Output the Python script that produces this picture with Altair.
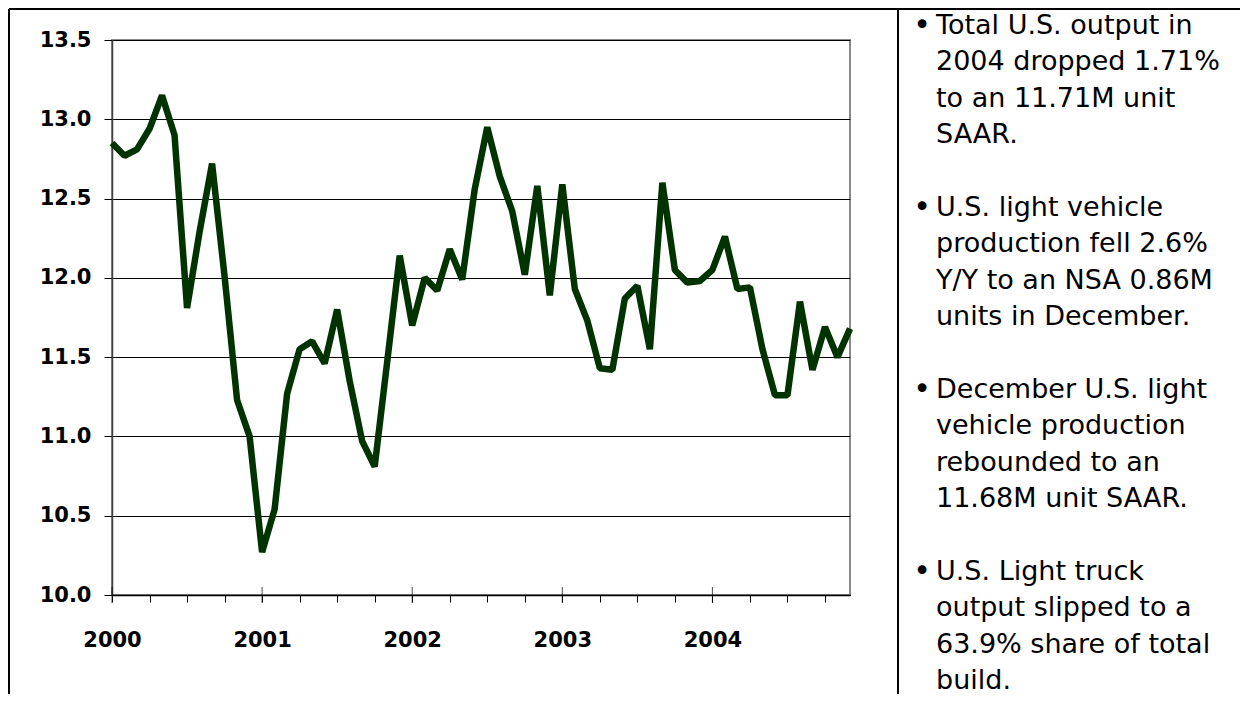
import altair as alt
import pandas as pd

# ---- data (U.S. light vehicle production, M units SAAR) ----
years = [2000, 2001, 2002, 2003, 2004]
v2000 = [12.85, 12.77, 12.81, 12.94, 13.15, 12.90, 11.81, 12.29, 12.72, 12.01, 11.23, 11.00]
v2001 = [10.27, 10.54, 11.27, 11.55, 11.60, 11.46, 11.80, 11.35, 10.97, 10.81, 11.47, 12.14]
v2002 = [11.70, 12.00, 11.92, 12.18, 11.99, 12.56, 12.95, 12.64, 12.42, 12.02, 12.58, 11.89]
v2003 = [12.59, 11.93, 11.73, 11.43, 11.42, 11.87, 11.95, 11.55, 12.60, 12.05, 11.97, 11.98]
v2004 = [12.05, 12.26, 11.93, 11.94, 11.55, 11.26, 11.26, 11.85, 11.42, 11.69, 11.50, 11.68]
series = [v2000, v2001, v2002, v2003, v2004]

y_ticks = [10.0, 10.5, 11.0, 11.5, 12.0, 12.5, 13.0, 13.5]

notes = [
    ["Total U.S. output in", "2004 dropped 1.71%", "to an 11.71M unit", "SAAR."],
    ["U.S. light vehicle", "production fell 2.6%", "Y/Y to an NSA 0.86M", "units in December."],
    ["December U.S. light", "vehicle production", "rebounded to an", "11.68M unit SAAR."],
    ["U.S. Light truck", "output slipped to a", "63.9% share of total", "build."],
]

# ---- tables ----
rows = []
for yi, (yr, vals) in enumerate(zip(years, series)):
    for m, v in enumerate(vals):
        rows.append({"t": yi * 12 + m, "value": v})
df = pd.DataFrame(rows)

year_pos = pd.DataFrame({"t": [i * 12 for i in range(len(years))]})

text_rows, bullet_rows = [], []
for g, lines in enumerate(notes):
    for j, s in enumerate(lines):
        text_rows.append({"line": g * 5 + j, "text": s})
    bullet_rows.append({"line": g * 5, "text": "\u2022"})
text_df = pd.DataFrame(text_rows)
bullet_df = pd.DataFrame(bullet_rows)

W, H = 738, 555
FONT = "DejaVu Sans"
y_scale = alt.Scale(domain=[10, 13.5], nice=False, zero=False)
x_scale = alt.Scale(domain=[0, 59], nice=False, zero=False)

x_axis = alt.Axis(values=list(range(0, 60, 3)), grid=False, title=None,
                  labelExpr=f"datum.value % 12 == 0 ? toString({years[0]} + datum.value / 12) : ''",
                  labelFlush=False, labelOverlap=False, labelBound=False,
                  labelFont=FONT, labelFontSize=21, labelFontWeight="bold",
                  labelColor="black", labelPadding=27,
                  tickSize=7, tickColor="black", tickWidth=1,
                  domainColor="black", domainWidth=1.5)

line = alt.Chart(df).mark_line(color="#003300", strokeWidth=6.5, strokeJoin="bevel").encode(
    x=alt.X("t:Q", scale=x_scale, axis=x_axis),
    y=alt.Y("value:Q", scale=y_scale, title=None,
            axis=alt.Axis(values=y_ticks, format=".1f", grid=True, gridColor="black",
                          gridWidth=1, labelFont=FONT, labelFontSize=21,
                          labelFontWeight="bold", labelColor="black", labelPadding=13,
                          tickSize=8, tickColor="black", domainColor="#404040",
                          domainWidth=1.5)),
)

year_ticks = alt.Chart(year_pos).mark_tick(orient="vertical", size=16, thickness=1,
                                           color="black").encode(
    x=alt.X("t:Q", scale=x_scale, axis=x_axis),
    y=alt.Y(datum=10.0, scale=y_scale, axis=None),
)

text_scale = alt.Scale(domain=[0, 18], range=[26 - 40, 681 - 40], nice=False, zero=False)
txt = alt.Chart(text_df).mark_text(align="left", baseline="middle", font=FONT,
                                   fontSize=27, color="black").encode(
    x=alt.value(936 - 112),
    y=alt.Y("line:Q", scale=text_scale, axis=None),
    text="text:N",
)
bul = alt.Chart(bullet_df).mark_text(align="center", baseline="middle", font=FONT,
                                     fontSize=30, color="black").encode(
    x=alt.value(922 - 112),
    y=alt.Y("line:Q", scale=text_scale, axis=None),
    text="text:N",
)

one = pd.DataFrame({"a": [0]})
border_left = alt.Chart(one).mark_rule(color="black", strokeWidth=2).encode(
    x=alt.value(9 - 112), x2=alt.value(9 - 112), y=alt.value(-31), y2=alt.value(700))
border_top = alt.Chart(one).mark_rule(color="black", strokeWidth=2).encode(
    x=alt.value(9 - 112), x2=alt.value(1254 - 112), y=alt.value(-31), y2=alt.value(-31))
border_mid = alt.Chart(one).mark_rule(color="black", strokeWidth=2).encode(
    x=alt.value(898 - 112), x2=alt.value(898 - 112), y=alt.value(-31), y2=alt.value(700))

chart = alt.layer(
    line, year_ticks, txt, bul, border_left, border_top, border_mid
).resolve_scale(y="independent").properties(
    width=W, height=H,
    autosize=alt.AutoSizeParams(type="none"),
    padding={"left": 104, "top": 32, "right": 390, "bottom": 99},
    background="white",
).configure_view(stroke="#888888", strokeWidth=2)

chart.save("out.html", embed_options={"renderer": "svg", "actions": False})
